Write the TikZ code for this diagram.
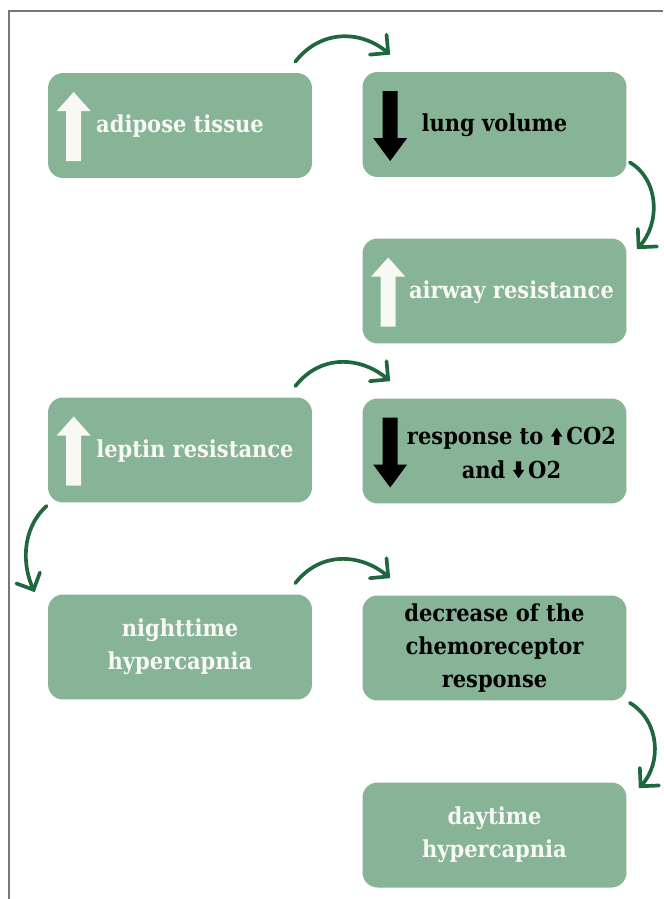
\documentclass[tikz,border=0pt]{standalone}
\usepackage{fontspec}
\usepackage{tikz}
\usetikzlibrary{arrows.meta,calc}
\newfontfamily\boxfont{DejaVu Serif Condensed}
\definecolor{sage}{RGB}{135,179,151}
\definecolor{forest}{RGB}{31,104,62}
\definecolor{framegray}{RGB}{120,120,120}
\definecolor{offwhite}{RGB}{248,248,244}
\newcommand{\upmark}{\tikz[baseline=0pt,x=1pt,y=1pt]\fill[black] (1.8,0) rectangle (4.8,5) (0,4.6) -- (3.3,9.6) -- (6.6,4.6) -- cycle;}
\newcommand{\downmark}{\tikz[baseline=0pt,x=1pt,y=1pt]\fill[black] (1.8,9.6) rectangle (4.8,4.4) (0,4.8) -- (3.3,0) -- (6.6,4.8) -- cycle;}

\begin{document}
\begin{tikzpicture}[x=0.02cm, y=-0.02cm,
  box/.style={fill=sage, rounded corners=0.3cm, minimum width=5.28cm, minimum height=2.1cm, inner sep=0pt},
  txt/.style={font=\boxfont\bfseries\fontsize{13.3}{19}\selectfont, align=center, inner sep=0pt},
  flow/.style={forest, line width=2.1pt, line cap=round, -{Straight Barb[length=2.6mm,width=5.2mm,line cap=round]}},
  bigup/.pic={\fill (-7.5,34.5) rectangle (7.5,-15.5) (-17,-15.5) -- (0,-34.5) -- (17,-15.5) -- cycle;},
  bigdown/.pic={\fill (-7.5,-35) rectangle (7.5,12) (-17,12) -- (0,35) -- (17,12) -- cycle;}]
\useasboundingbox (0,0) rectangle (663,899);
\draw[framegray, line width=0.04cm] (9,899) -- (9,11) -- (663,11);

% boxes
\node[box] (adipose) at (180,125.5) {};
\node[box] (lung) at (494.5,124.5) {};
\node[box] (airway) at (494.5,291) {};
\node[box] (leptin) at (180,450) {};
\node[box] (response) at (494.5,451) {};
\node[box, txt, text=offwhite] (night) at (180,647) {nighttime\\hypercapnia};
\node[box, txt, text=black] (decrease) at (494.5,648) {decrease of the\\chemoreceptor\\response};
\node[box, txt, text=offwhite] (daytime) at (494.5,835) {daytime\\hypercapnia};

% big arrows
\pic[fill=offwhite] at ($(adipose.west)+(26,1)$) {bigup};
\pic[fill=black] at ($(lung.west)+(28,1.5)$) {bigdown};
\pic[fill=offwhite] at ($(airway.west)+(26,1)$) {bigup};
\pic[fill=offwhite] at ($(leptin.west)+(26,1)$) {bigup};
\pic[fill=black] at ($(response.west)+(28,1.5)$) {bigdown};

% texts
\node[txt, text=offwhite] (adiposetxt) at ($(adipose.center)+(0,1)$) {adipose tissue};
\node[txt, text=black] (lungtxt) at ($(lung.center)+(0,1)$) {lung volume};
\node[txt, text=offwhite] (airwaytxt) at ($(airway.center)+(17,1)$) {airway resistance};
\node[txt, text=offwhite] (leptintxt) at ($(leptin.center)+(15,1)$) {leptin resistance};
\node[txt, text=black] (responsetxt) at ($(response.center)+(17,2)$) {response to \upmark\,CO2\\and \downmark\,O2};

% connectors
\draw[flow] ($(adipose.north east)+(-17,-11)$) .. controls +(25,-32) and +(-30,-25) .. ($(lung.north west)+(28,-17)$);
\draw[flow] ($(lung.south east)+(3,-15)$) .. controls +(30,18) and +(23,-25) .. ($(airway.north east)+(10,11)$);
\draw[flow] ($(leptin.north east)+(-17,-11)$) .. controls +(25,-32) and +(-30,-25) .. ($(response.north west)+(28,-17)$);
\draw[flow] ($(leptin.south west)+(-1,3)$) .. controls +(-26,24) and +(-12,-26) .. ($(night.north west)+(-13,-2)$);
\draw[flow] ($(night.north east)+(-17,-11)$) .. controls +(25,-32) and +(-30,-25) .. ($(decrease.north west)+(28,-17)$);
\draw[flow] ($(decrease.south east)+(3,2)$) .. controls +(30,18) and +(23,-25) .. ($(daytime.north east)+(12,6)$);
\end{tikzpicture}
\end{document}
